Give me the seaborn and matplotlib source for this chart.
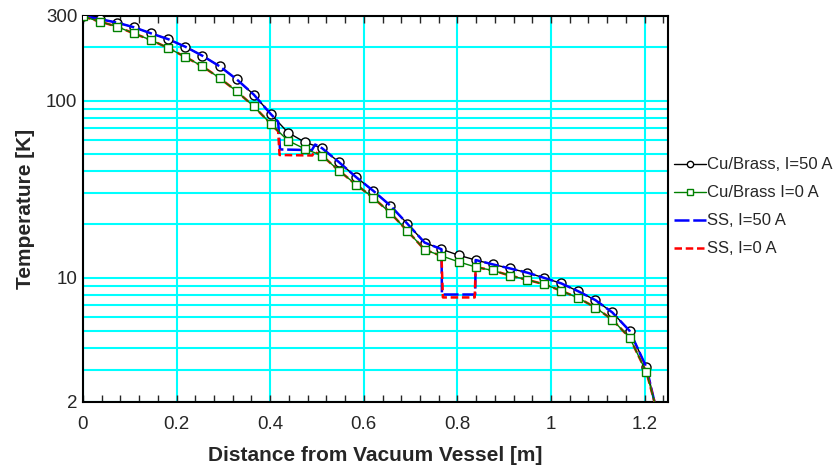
import matplotlib
matplotlib.use("Agg")
import matplotlib.pyplot as plt
import matplotlib.ticker as mticker
import numpy as np
import pandas as pd
import seaborn as sns

# sampled points (distance in m, temperature in K)
dist = [0.0, 0.036, 0.073, 0.109, 0.146, 0.182, 0.219, 0.255, 0.292, 0.328, 0.365, 0.401,
        0.438, 0.474, 0.511, 0.547, 0.584, 0.620, 0.657, 0.693, 0.730, 0.766, 0.803, 0.839,
        0.876, 0.912, 0.949, 0.985, 1.022, 1.058, 1.095, 1.131, 1.168, 1.204, 1.221]
cu_50 = [300, 288, 275, 259, 239, 222, 201, 179, 156, 132, 108, 84, 66, 58.2, 53.8, 44.9,
         36.9, 31.0, 25.5, 20.2, 15.8, 14.5, 13.4, 12.6, 11.9, 11.3, 10.7, 10.0, 9.3, 8.4,
         7.48, 6.38, 5.02, 3.12, 2.0]
cu_0 = [298, 279, 261, 239, 219, 198, 176, 156, 134, 113, 92.7, 74, 59.4, 53.4, 48.9, 40.2,
        33.5, 28.3, 23.2, 18.4, 14.4, 13.3, 12.3, 11.5, 11.0, 10.3, 9.75, 9.2, 8.45, 7.7,
        6.8, 5.8, 4.6, 2.93, 2.0]

# where the stainless steel sections differ from Cu/Brass
dip1_x_50 = [0.417, 0.421, 0.489, 0.496]
dip1_T_50 = [76, 53, 52.5, 56.5]
dip2_x_50 = [0.767, 0.838]
dip2_T_50 = [8.05, 8.05]
dip1_x_0 = [0.417, 0.420, 0.490, 0.494]
dip1_T_0 = [67, 49.3, 49.0, 51.5]
dip2_x_0 = [0.769, 0.837]
dip2_T_0 = [7.75, 7.75]

xtick_vals = [0, 0.2, 0.4, 0.6, 0.8, 1.0, 1.2]
xtick_labels = ['0', '0.2', '0.4', '0.6', '0.8', '1', '1.2']
ytick_vals = [2, 10, 100, 300]
ytick_labels = ['2', '10', '100', '300']
ygrid_minor = [3, 4, 5, 6, 7, 8, 9, 20, 30, 40, 50, 60, 70, 80, 90, 200]


def splice(base, dip1, dip2):
    return list(base[:12]) + list(dip1) + list(base[14:22]) + list(dip2) + list(base[23:])


ss50 = pd.DataFrame({'x': splice(dist, dip1_x_50, dip2_x_50),
                     'T': splice(cu_50, dip1_T_50, dip2_T_50)})
ss0 = pd.DataFrame({'x': splice(dist, dip1_x_0, dip2_x_0),
                    'T': splice(cu_0, dip1_T_0, dip2_T_0)})
cu50 = pd.DataFrame({'x': dist, 'T': cu_50})
cu0 = pd.DataFrame({'x': dist, 'T': cu_0})

sns.set_style("white")
plt.rcParams['font.family'] = ['Liberation Sans', 'DejaVu Sans']

fig = plt.figure(figsize=(8.35, 4.7), dpi=100)
ax = fig.add_axes([0.0994, 0.1453, 0.7006, 0.8207])

marks = list(range(len(dist) - 1))
sns.lineplot(data=cu50, x='x', y='T', ax=ax, sort=False, estimator=None, color='black',
             lw=1, marker='o', ms=6.5, mfc='white', mec='black', mew=1,
             markevery=marks, label='Cu/Brass, I=50 A', zorder=3)
sns.lineplot(data=ss50, x='x', y='T', ax=ax, sort=False, estimator=None, color='#0000ff',
             lw=1.8, dashes=(6, 1.5), label='SS, I=50 A', zorder=4)
sns.lineplot(data=ss0, x='x', y='T', ax=ax, sort=False, estimator=None, color='#ff0000',
             lw=1.8, dashes=(3, 1.5), label='SS, I=0 A', zorder=5)
sns.lineplot(data=cu0, x='x', y='T', ax=ax, sort=False, estimator=None, color='#008000',
             lw=1, marker='s', ms=6, mfc='white', mec='#008000', mew=1,
             markevery=marks, label='Cu/Brass I=0 A', zorder=6)

ax.set_yscale('log')
ax.set_xlim(0, 1.25)
ax.set_ylim(2, 300)
ax.set_xticks(xtick_vals)
ax.set_xticklabels(xtick_labels)
ax.xaxis.set_minor_locator(mticker.MultipleLocator(0.04))
ax.set_yticks(ytick_vals)
ax.set_yticklabels(ytick_labels)
ax.yaxis.set_minor_locator(mticker.FixedLocator(ygrid_minor))
ax.yaxis.set_minor_formatter(mticker.NullFormatter())

ax.grid(True, which='major', axis='x', color='#00ffff', lw=1.5)
ax.grid(True, which='both', axis='y', color='#00ffff', lw=1.5)
ax.set_axisbelow(True)

ax.tick_params(axis='x', which='both', direction='in', top=True, bottom=True,
               length=5, width=1, labelsize=13.5, pad=10)
ax.tick_params(axis='y', which='both', length=0, labelsize=13.5, pad=4)
for s in ax.spines.values():
    s.set_color('black')
    s.set_linewidth(1.5)

ax.set_xlabel('Distance from Vacuum Vessel [m]', fontsize=15, fontweight='bold', labelpad=10)
ax.set_ylabel('Temperature [K]', fontsize=15, fontweight='bold', labelpad=8)

h, l = ax.get_legend_handles_labels()
order = [l.index('Cu/Brass, I=50 A'), l.index('Cu/Brass I=0 A'),
         l.index('SS, I=50 A'), l.index('SS, I=0 A')]
leg = ax.legend([h[i] for i in order], [l[i] for i in order], loc='center left',
                bbox_to_anchor=(1.01, 0.505), frameon=False, fontsize=12,
                handlelength=1.9, handletextpad=0.1, labelspacing=0.78,
                borderaxespad=0, borderpad=0, markerscale=0.7)

fig.savefig('out.png', dpi=100)
